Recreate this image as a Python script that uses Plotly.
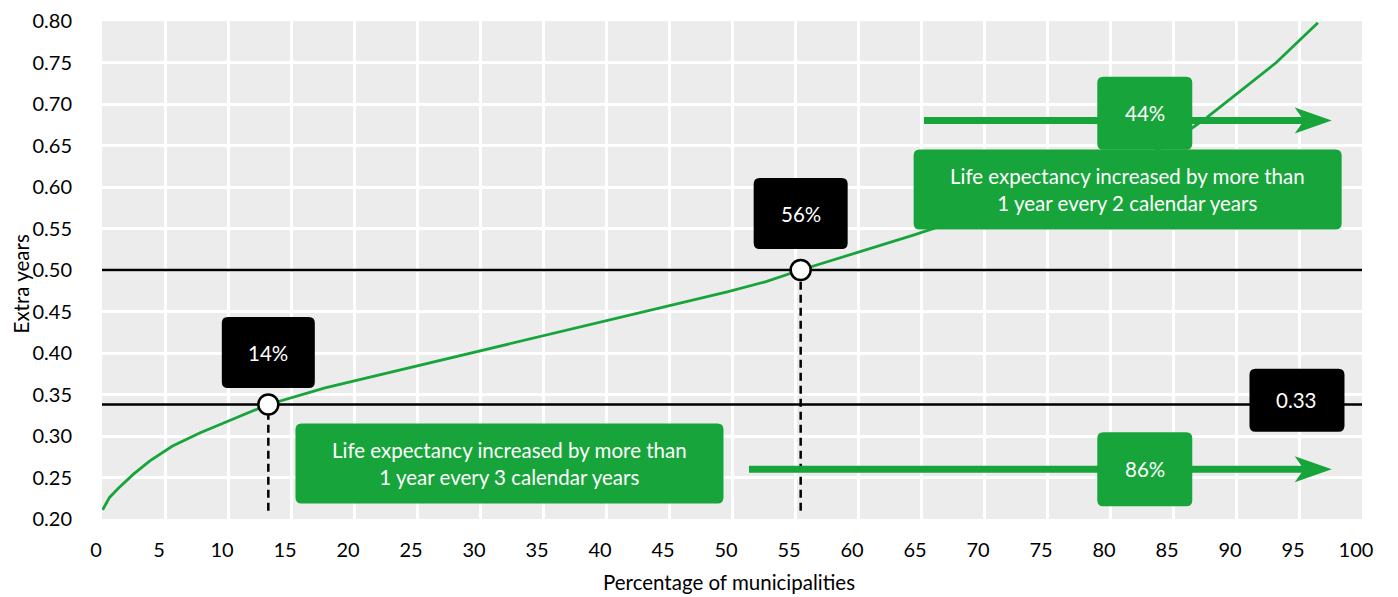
import plotly.graph_objects as go

# ---------------- data ----------------
pct_municipalities = [0.05, 0.6, 1.3, 2.5, 3.8, 5.6, 7.8, 10.4, 13.2, 17.7, 30.4, 49.7,
                      52.7, 55.45, 64.4, 80.7, 83.8, 86.6, 87.7, 93.2, 96.5]
extra_years = [0.211, 0.226, 0.237, 0.254, 0.270, 0.288, 0.304, 0.320, 0.338, 0.358, 0.404,
               0.474, 0.486, 0.500, 0.542, 0.624, 0.645, 0.672, 0.684, 0.750, 0.798]

thresholds = [0.338, 0.5]            # 1 year every 3 / every 2 calendar years
crossing_pct = [13.2, 55.45]         # where the curve crosses each threshold
crossing_labels = ["14%", "56%"]
threshold_label = "0.33"
share_above_labels = ["86%", "44%"]
box_texts = ["Life expectancy increased by more than<br>1 year every 3 calendar years",
             "Life expectancy increased by more than<br>1 year every 2 calendar years"]

x_ticks = list(range(0, 101, 5))
y_ticks = [round(0.20 + 0.05 * i, 2) for i in range(13)]
x_range = [0, 100]
y_range = [0.2, 0.8]

# ---------------- style ----------------
GREEN = "#17a53b"
FONT = "Lato, sans-serif"
TXT = 20.5


def rrect(w, h, r=6):
    x0, x1, y0, y1 = -w / 2, w / 2, -h / 2, h / 2
    return (f"M{x0 + r},{y0} L{x1 - r},{y0} Q{x1},{y0} {x1},{y0 + r} "
            f"L{x1},{y1 - r} Q{x1},{y1} {x1 - r},{y1} L{x0 + r},{y1} "
            f"Q{x0},{y1} {x0},{y1 - r} L{x0},{y0 + r} Q{x0},{y0} {x0 + r},{y0} Z")


def box(xc, yc, w, h, color):
    return dict(type="path", xref="x", yref="y", xsizemode="pixel", ysizemode="pixel",
                xanchor=xc, yanchor=yc, path=rrect(w, h), fillcolor=color,
                line=dict(width=0), layer="above")


def label(xc, yc, text):
    return dict(x=xc, y=yc, xref="x", yref="y", text=text, showarrow=False,
                xanchor="center", yanchor="middle",
                font=dict(family=FONT, size=TXT, color="white"), align="center")


fig = go.Figure()

# threshold lines (full width) and dashed drop lines
for t, xc in zip(thresholds, crossing_pct):
    fig.add_trace(go.Scatter(x=x_range, y=[t, t], mode="lines",
                             line=dict(color="black", width=2.5), hoverinfo="skip",
                             showlegend=False, cliponaxis=False))
    fig.add_trace(go.Scatter(x=[xc, xc], y=[0.21, t], mode="lines",
                             line=dict(color="black", width=2.5, dash="8px,5px"),
                             hoverinfo="skip", showlegend=False))

fig.add_trace(go.Scatter(x=pct_municipalities, y=extra_years, mode="lines",
                         line=dict(color=GREEN, width=2.8), hoverinfo="skip",
                         showlegend=False))
fig.add_trace(go.Scatter(x=crossing_pct, y=thresholds, mode="markers",
                         marker=dict(size=20, color="white",
                                     line=dict(color="black", width=2.5)),
                         showlegend=False))

shapes = []
# arrows (shaft + head)
arrow_rows = [(51.35, 0.260), (65.24, 0.680)]
tip_x = 97.6
for x_start, ya in arrow_rows:
    shapes.append(dict(type="line", xref="x", yref="y", x0=x_start, x1=tip_x - 1.6,
                       y0=ya, y1=ya, line=dict(color=GREEN, width=7), layer="above"))
    shapes.append(dict(type="path", xref="x", yref="y", xsizemode="pixel",
                       ysizemode="pixel", xanchor=tip_x, yanchor=ya,
                       path="M0,0 L-37,13 L-28,0 L-37,-13 Z", fillcolor=GREEN,
                       line=dict(width=0), layer="above"))

annotations = []
black_boxes = [(crossing_pct[0], 0.4005, 93, 71, crossing_labels[0]),
               (crossing_pct[1], 0.568, 94, 71, crossing_labels[1]),
               (94.84, 0.343, 95, 63, threshold_label)]
for xc, yc, w, h, txt in black_boxes:
    shapes.append(box(xc, yc, w, h, "black"))
    annotations.append(label(xc, yc, txt))

green_boxes = [(32.34, 0.267, 428, 80, box_texts[0]),
               (81.4, 0.597, 428, 80, box_texts[1]),
               (82.76, 0.260, 95, 74, share_above_labels[0]),
               (82.76, 0.689, 95, 73, share_above_labels[1])]
for xc, yc, w, h, txt in green_boxes:
    shapes.append(box(xc, yc, w, h, GREEN))
    annotations.append(label(xc, yc, txt))

# axis titles
annotations.append(dict(text="Extra years", xref="paper", yref="paper", x=-0.0643, y=0.473,
                        xanchor="center", yanchor="middle", textangle=-90, showarrow=False,
                        font=dict(family=FONT, size=TXT, color="black")))
annotations.append(dict(text="Percentage of municipalities", xref="paper", yref="paper",
                        x=0.498, y=-0.126, xanchor="center", yanchor="middle",
                        showarrow=False, font=dict(family=FONT, size=TXT, color="black")))

# the page adds an 8px body margin, so the figure is 8px smaller and margins shifted
fig.update_layout(
    width=1390, height=589,
    margin=dict(l=94, r=36, t=13, b=78),
    paper_bgcolor="white", plot_bgcolor="#ececec",
    font=dict(family=FONT, size=20, color="black"),
    shapes=shapes, annotations=annotations,
    showlegend=False,
)
fig.update_xaxes(range=x_range, tickvals=x_ticks, showgrid=True, gridcolor="white",
                 gridwidth=2.5, zeroline=False, showline=False, ticks="",
                 ticklabelstandoff=17, ticklabelshift=-6, ticklabeloverflow="allow",
                 automargin=False)
fig.update_yaxes(range=y_range, tickvals=y_ticks, tickformat=".2f", showgrid=True,
                 gridcolor="white", gridwidth=2.5, zeroline=False, showline=False,
                 ticks="", ticklabelstandoff=29, ticklabeloverflow="allow",
                 automargin=False)

fig.write_html("out.html")
